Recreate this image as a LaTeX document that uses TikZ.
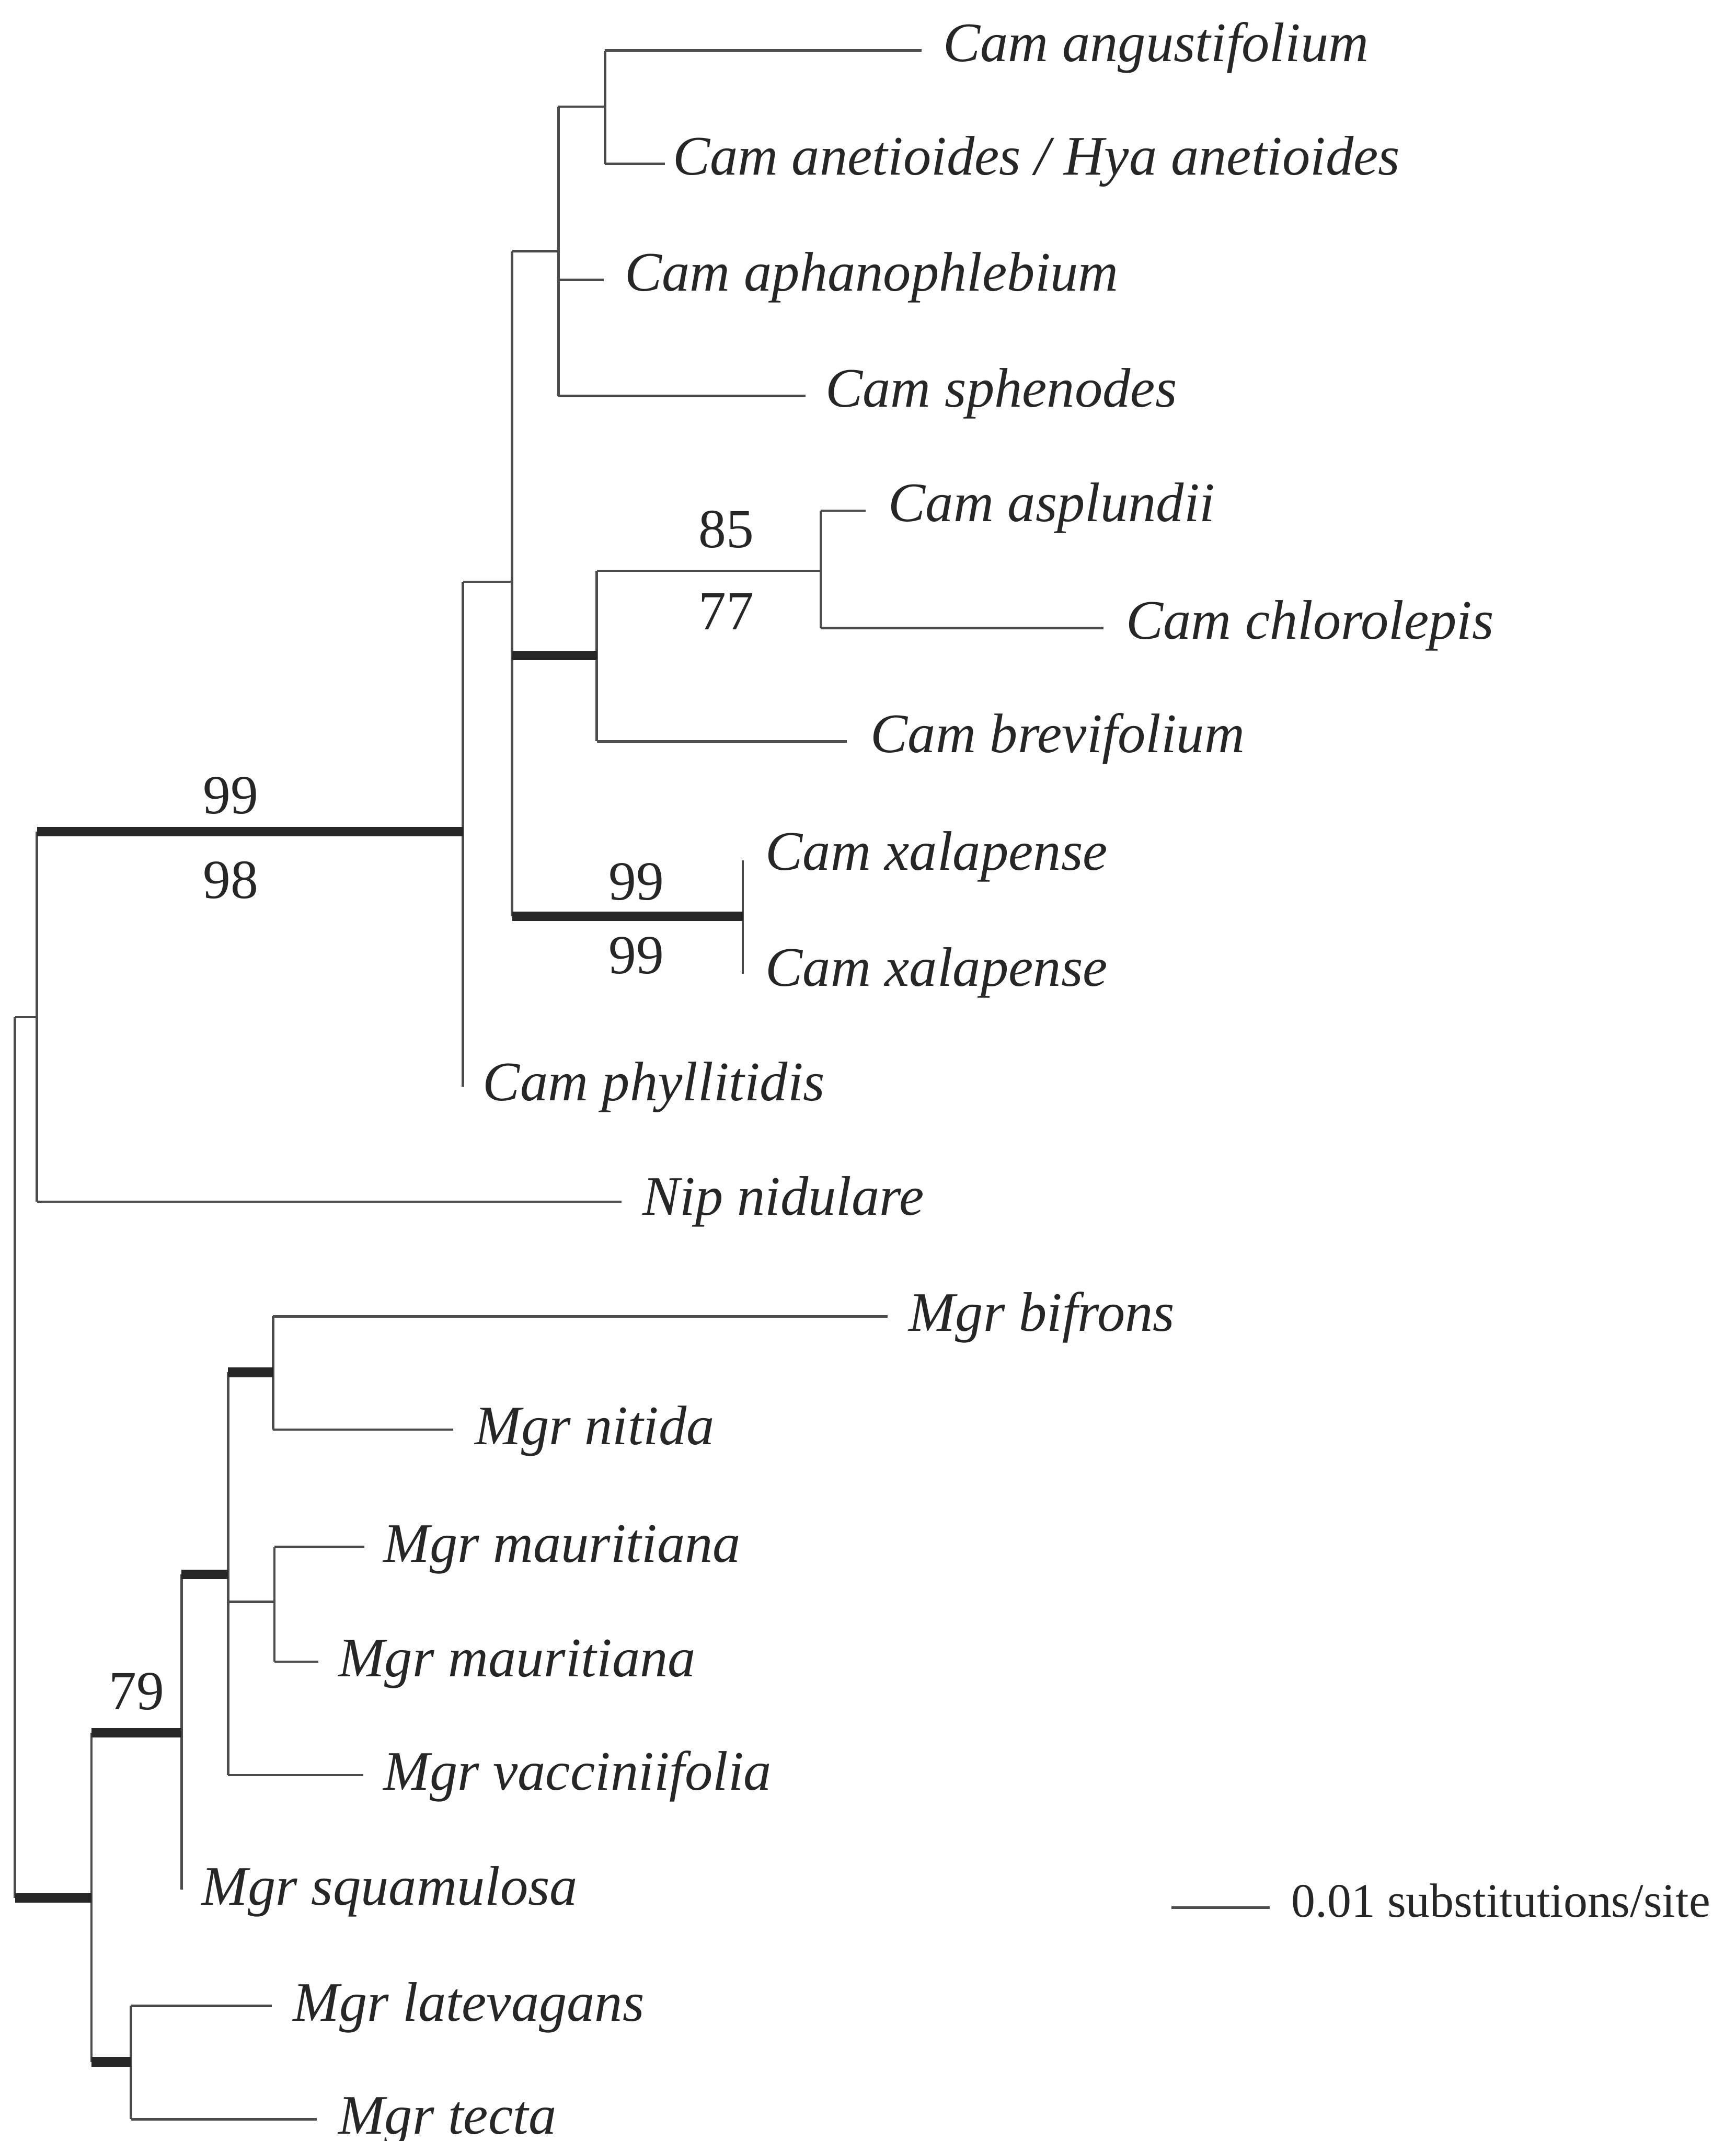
\documentclass[tikz,border=0pt]{standalone}
\usepackage{fontspec}
\setmainfont{Liberation Serif}
\begin{document}
\begin{tikzpicture}[x=0.01cm,y=-0.01cm,
  br/.style={draw=black!70, line width=0.5pt},
  thickbr/.style={draw=black!85, line width=2pt},
  taxon/.style={anchor=base west, inner sep=0pt, text=black!85, font=\fontsize{11.6}{13}\selectfont\itshape, yshift=-0.02cm},
  boot/.style={anchor=base, inner sep=0pt, text=black!85, font=\fontsize{11.5}{13}\selectfont},
  scaletext/.style={anchor=base west, inner sep=0pt, text=black!85, font=\fontsize{10}{12}\selectfont},
]
\useasboundingbox (0,0) rectangle (1271,1568);

% internal nodes
\coordinate (root) at (11,1067);
\coordinate (nA) at (27,745);
\coordinate (nB) at (339,609);
\coordinate (nC) at (375,426);
\coordinate (nD) at (409,184);
\coordinate (nE) at (443,78);
\coordinate (nF) at (437,480);
\coordinate (nG) at (601,418);
\coordinate (nH) at (544,671);
\coordinate (nM) at (67,1390);
\coordinate (nN) at (133,1269);
\coordinate (nP) at (167,1153);
\coordinate (nQ) at (200,1005);
\coordinate (nR) at (201,1173);
\coordinate (nT) at (96,1510);

% tips
\coordinate (t1) at (675,37);
\coordinate (t2) at (487,120);
\coordinate (t3) at (442,205);
\coordinate (t4) at (590,290);
\coordinate (t5) at (634,374);
\coordinate (t6) at (808,460);
\coordinate (t7) at (620,543);
\coordinate (t8) at (544,630);
\coordinate (t9) at (544,713);
\coordinate (t10) at (339,796);
\coordinate (t11) at (455,880);
\coordinate (t12) at (650,964);
\coordinate (t13) at (332,1047);
\coordinate (t14) at (267,1133);
\coordinate (t15) at (233,1217);
\coordinate (t16) at (266,1300);
\coordinate (t17) at (133,1384);
\coordinate (t18) at (199,1469);
\coordinate (t19) at (232,1552);

% labels
\node[taxon] (L1) at (690,43) {Cam angustifolium};
\node[taxon] (L2) at (492,126) {Cam anetioides / Hya anetioides};
\node[taxon] (L3) at (457,211) {Cam aphanophlebium};
\node[taxon] (L4) at (604,296) {Cam sphenodes};
\node[taxon] (L5) at (650,380) {Cam asplundii};
\node[taxon] (L6) at (824,466) {Cam chlorolepis};
\node[taxon] (L7) at (637,549) {Cam brevifolium};
\node[taxon] (L8) at (560,635) {Cam xalapense};
\node[taxon] (L9) at (560,720) {Cam xalapense};
\node[taxon] (L10) at (353,804) {Cam phyllitidis};
\node[taxon] (L11) at (470,888) {Nip nidulare};
\node[taxon] (L12) at (665,973) {Mgr bifrons};
\node[taxon] (L13) at (347,1056) {Mgr nitida};
\node[taxon] (L14) at (280,1142) {Mgr mauritiana};
\node[taxon] (L15) at (247,1226) {Mgr mauritiana};
\node[taxon] (L16) at (280,1309) {Mgr vacciniifolia};
\node[taxon] (L17) at (147,1393) {Mgr squamulosa};
\node[taxon] (L18) at (214,1478) {Mgr latevagans};
\node[taxon] (L19) at (247,1561) {Mgr tecta};

% bootstrap values
\node[boot] (b1) at (169,596) {99};
\node[boot] (b2) at (169,658) {98};
\node[boot] (b3) at (532,401) {85};
\node[boot] (b4) at (532,461) {77};
\node[boot] (b5) at (466,659) {99};
\node[boot] (b6) at (466,713) {99};
\node[boot] (b7) at (100,1252) {79};

% verticals
\draw[br] (root |- nA) -- (root |- nM);
\draw[br] (nA |- nB) -- (nA |- t11);
\draw[br] (nB |- nC) -- (nB |- t10);
\draw[br] (nC |- nD) -- (nC |- nH);
\draw[br] (nD |- nE) -- (nD |- t4);
\draw[br] (nE |- t1) -- (nE |- t2);
\draw[br] (nF |- nG) -- (nF |- t7);
\draw[br] (nG |- t5) -- (nG |- t6);
\draw[br] (nH |- t8) -- (nH |- t9);
\draw[br] (nM |- nN) -- (nM |- nT);
\draw[br] (nN |- nP) -- (nN |- t17);
\draw[br] (nP |- nQ) -- (nP |- t16);
\draw[br] (nQ |- t12) -- (nQ |- t13);
\draw[br] (nR |- t14) -- (nR |- t15);
\draw[br] (nT |- t18) -- (nT |- t19);

% horizontals
\draw[br] (root |- nA) -- (nA);
\draw[thickbr] (root |- nM) -- (nM);
\draw[thickbr] (nA |- nB) -- (nB);
\draw[br] (nA |- t11) -- (t11);
\draw[br] (nB |- nC) -- (nC);
\draw[br] (nC |- nD) -- (nD);
\draw[thickbr] (nC |- nF) -- (nF);
\draw[thickbr] (nC |- nH) -- (nH);
\draw[br] (nD |- nE) -- (nE);
\draw[br] (nD |- t3) -- (t3);
\draw[br] (nD |- t4) -- (t4);
\draw[br] (nE |- t1) -- (t1);
\draw[br] (nE |- t2) -- (t2);
\draw[br] (nF |- nG) -- (nG);
\draw[br] (nF |- t7) -- (t7);
\draw[br] (nG |- t5) -- (t5);
\draw[br] (nG |- t6) -- (t6);
\draw[thickbr] (nM |- nN) -- (nN);
\draw[thickbr] (nM |- nT) -- (nT);
\draw[thickbr] (nN |- nP) -- (nP);
\draw[thickbr] (nP |- nQ) -- (nQ);
\draw[br] (nP |- nR) -- (nR);
\draw[br] (nP |- t16) -- (t16);
\draw[br] (nQ |- t12) -- (t12);
\draw[br] (nQ |- t13) -- (t13);
\draw[br] (nR |- t14) -- (t14);
\draw[br] (nR |- t15) -- (t15);
\draw[br] (nT |- t18) -- (t18);
\draw[br] (nT |- t19) -- (t19);

% scale bar
\coordinate (sb1) at (858,1397);
\coordinate (sb2) at (930,1397);
\draw[br] (sb1) -- (sb2);
\node[scaletext] (sbt) at (945,1404) {0.01 substitutions/site};
\end{tikzpicture}
\end{document}
